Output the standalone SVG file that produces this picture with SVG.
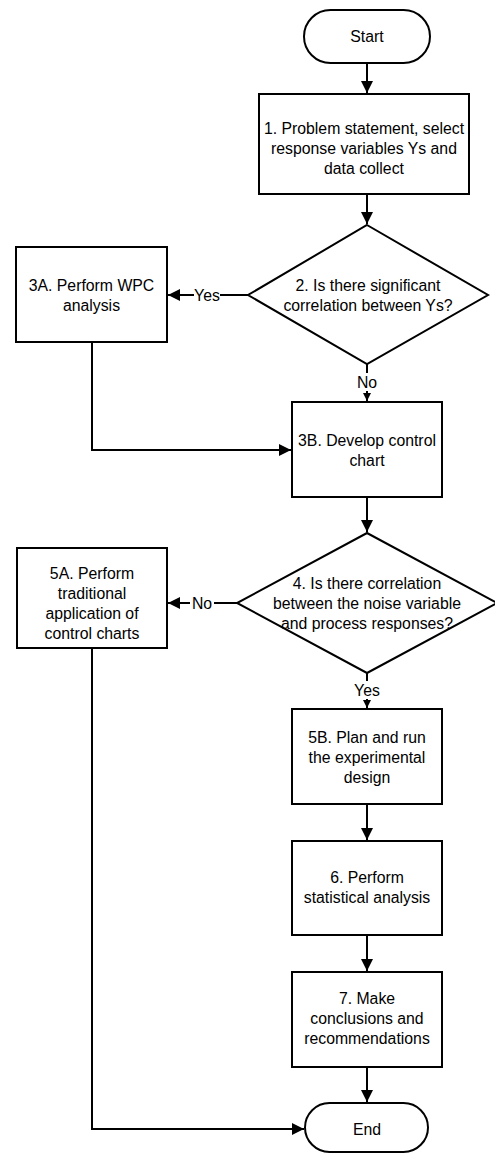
<svg xmlns="http://www.w3.org/2000/svg" width="495" height="1153" viewBox="0 0 495 1153">
<style>
.s{fill:#fff;stroke:#000;stroke-width:2}
.t{font-family:"Liberation Sans",Arial,sans-serif;font-size:15.8px;fill:#000;text-anchor:middle}
.c{fill:none;stroke:#000;stroke-width:2}
</style>
<defs>
<marker id="a" viewBox="0 0 12 12" refX="12" refY="6" markerWidth="12" markerHeight="12" markerUnits="userSpaceOnUse" orient="auto"><path d="M0,0L12,6L0,12z" fill="#000"/></marker>
<marker id="sm" viewBox="0 0 8 8" refX="8" refY="4" markerWidth="8" markerHeight="8" markerUnits="userSpaceOnUse" orient="auto"><path d="M0,0L8,4L0,8z" fill="#000"/></marker>
</defs>
<rect width="495" height="1153" fill="#fff"/>
<g id="connectors">
<path class="c" d="M367,63V93" marker-end="url(#a)"/>
<path class="c" d="M367,194V224" marker-end="url(#a)"/>
<path class="c" d="M248,295H168" marker-end="url(#a)"/>
<path class="c" d="M367,364V401" marker-end="url(#sm)"/>
<path class="c" d="M92,342V450H291" marker-end="url(#a)"/>
<path class="c" d="M367,497V532" marker-end="url(#a)"/>
<path class="c" d="M237,603H168" marker-end="url(#a)"/>
<path class="c" d="M367,673V708" marker-end="url(#sm)"/>
<path class="c" d="M367,804V840" marker-end="url(#a)"/>
<path class="c" d="M367,935V971" marker-end="url(#a)"/>
<path class="c" d="M367,1067V1102" marker-end="url(#a)"/>
<path class="c" d="M92,648V1129H304" marker-end="url(#a)"/>
<rect x="194" y="286" width="26" height="18" fill="#fff"/>
<text class="t" x="207" y="301">Yes</text>
<rect x="357" y="373" width="20" height="18" fill="#fff"/>
<text class="t" x="367" y="388">No</text>
<rect x="190" y="594" width="24" height="18" fill="#fff"/>
<text class="t" x="202" y="609">No</text>
<rect x="354" y="681" width="26" height="18" fill="#fff"/>
<text class="t" x="367" y="696">Yes</text>
</g>
<g id="start"><rect class="s" x="304" y="10" width="126" height="53" rx="26.5"/><text class="t" x="367" y="42">Start</text></g>
<g id="step1"><rect class="s" x="259" y="94" width="210" height="100"/>
<text class="t" x="364" y="134">1. Problem statement, select</text>
<text class="t" x="364" y="154">response variables Ys and</text>
<text class="t" x="364" y="174">data collect</text></g>
<g id="step2"><path class="s" d="M367,225L488,295L367,364L248,295z"/>
<text class="t" x="368" y="291">2. Is there significant</text>
<text class="t" x="368" y="311">correlation between Ys?</text></g>
<g id="step3a"><rect class="s" x="16" y="247" width="151" height="95"/>
<text class="t" x="91.5" y="291">3A. Perform WPC</text>
<text class="t" x="91.5" y="311">analysis</text></g>
<g id="step3b"><rect class="s" x="292" y="402" width="150" height="95"/>
<text class="t" x="367" y="446">3B. Develop control</text>
<text class="t" x="367" y="466">chart</text></g>
<g id="step4"><path class="s" d="M367,533L497,603L367,673L237,603z"/>
<text class="t" x="367" y="589">4. Is there correlation</text>
<text class="t" x="367" y="609">between the noise variable</text>
<text class="t" x="367" y="629">and process responses?</text></g>
<g id="step5a"><rect class="s" x="17" y="548" width="150" height="100"/>
<text class="t" x="92" y="579">5A. Perform</text>
<text class="t" x="92" y="599">traditional</text>
<text class="t" x="92" y="619">application of</text>
<text class="t" x="92" y="639">control charts</text></g>
<g id="step5b"><rect class="s" x="292" y="709" width="150" height="95"/>
<text class="t" x="367" y="743">5B. Plan and run</text>
<text class="t" x="367" y="763">the experimental</text>
<text class="t" x="367" y="783">design</text></g>
<g id="step6"><rect class="s" x="292" y="841" width="150" height="94"/>
<text class="t" x="367" y="883">6. Perform</text>
<text class="t" x="367" y="903">statistical analysis</text></g>
<g id="step7"><rect class="s" x="292" y="972" width="150" height="95"/>
<text class="t" x="367" y="1004">7. Make</text>
<text class="t" x="367" y="1024">conclusions and</text>
<text class="t" x="367" y="1044">recommendations</text></g>
<g id="end"><rect class="s" x="305" y="1103" width="123" height="49" rx="24.5"/><text class="t" x="367" y="1135">End</text></g>
</svg>
